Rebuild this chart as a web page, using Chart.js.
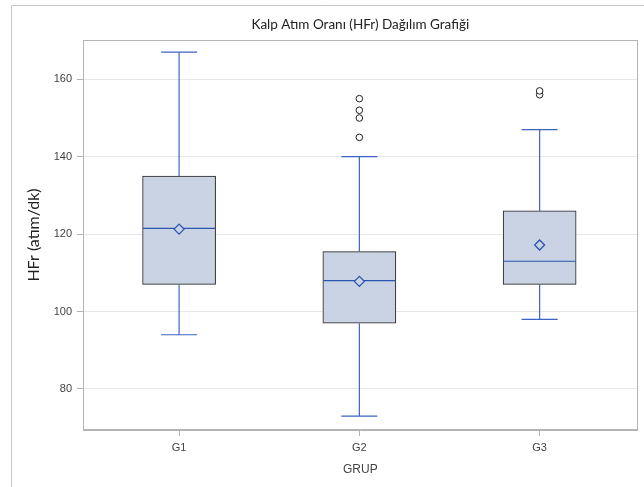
<!DOCTYPE html>
<html><head><meta charset="utf-8">
<script src="https://cdn.jsdelivr.net/npm/chart.js@4.4.1/dist/chart.umd.min.js"></script>
<style>html,body{margin:0;padding:0;background:#fff}#wrap{width:644px;height:487px;position:relative}</style>
</head><body><div id="wrap"><canvas id="c" width="644" height="487"></canvas></div>
<script>
// ---- data ----
const groups = ['G1', 'G2', 'G3'];
const minVals = [94, 73, 98];
const q1Vals = [107, 97, 107];
const medianVals = [121.5, 108, 113];
const meanVals = [121.3, 107.8, 117.2];
const q3Vals = [135, 115.5, 126];
const maxVals = [167, 140, 147];
const outlierVals = [[], [145, 150, 152, 155], [156, 157]];
const yTicks = [80, 100, 120, 140, 160];
const titleText = 'Kalp Atım Oranı (HFr) Dağılım Grafiği';
const yTitle = 'HFr (atım/dk)';
const xTitle = 'GRUP';

// ---- styling / layout constants ----
const X_MIN = 0.467, X_MAX = 3.544, Y_MIN = 69.4, Y_MAX = 170.15;
const CAP = 0.1, MED = 0.2;
const BLUE = '#3B65C2', BLUE_D = '#2A55B0', AXIS = '#B4B4B4', TXT = '#444';
const pos = groups.map((g, i) => i + 1);

const whiskerData = [];
pos.forEach((x, i) => {
  whiskerData.push(
    {x: x - CAP, y: maxVals[i]}, {x: x + CAP, y: maxVals[i]}, {x: x, y: null},
    {x: x, y: maxVals[i]}, {x: x, y: q3Vals[i]}, {x: x, y: null},
    {x: x, y: q1Vals[i]}, {x: x, y: minVals[i]}, {x: x, y: null},
    {x: x - CAP, y: minVals[i]}, {x: x + CAP, y: minVals[i]}, {x: x, y: null}
  );
});
const medianData = [];
pos.forEach((x, i) => {
  medianData.push({x: x - MED, y: medianVals[i]}, {x: x + MED, y: medianVals[i]}, {x: x, y: null});
});
const outlierData = [];
pos.forEach((x, i) => outlierVals[i].forEach(v => outlierData.push({x: x, y: v})));

const framePlugin = {
  id: 'frame',
  beforeDraw(chart) {
    const c = chart.ctx;
    c.save();
    c.fillStyle = '#fff';
    c.fillRect(0, 0, chart.width, chart.height);
    c.strokeStyle = '#C8C8C8';
    c.lineWidth = 1;
    c.beginPath();
    c.moveTo(11.5, 487); c.lineTo(11.5, 5.5); c.lineTo(644, 5.5);
    c.stroke();
    c.restore();
  },
  afterDraw(chart) {
    const c = chart.ctx, a = chart.chartArea;
    c.save();
    c.strokeStyle = AXIS;
    c.lineWidth = 1;
    c.strokeRect(Math.round(a.left) + 0.5, Math.round(a.top) + 0.5, Math.round(a.right - a.left) - 1, Math.round(a.bottom - a.top) - 1);
    c.fillStyle = '#222';
    c.font = '13.5px Lato';
    c.textAlign = 'center';
    c.textBaseline = 'middle';
    c.fillText(titleText, (a.left + a.right) / 2, 25);
    c.restore();
  }
};

new Chart(document.getElementById('c'), {
  type: 'bar',
  data: {
    datasets: [
      {
        type: 'bar', label: 'box', order: 3,
        data: pos.map((x, i) => ({x: x, y: [q1Vals[i], q3Vals[i]]})),
        backgroundColor: '#CAD3E3', borderColor: '#1E1E1E', borderWidth: 1,
        borderSkipped: false, barThickness: 73
      },
      {
        type: 'line', label: 'whiskers', order: 2, data: whiskerData,
        borderColor: BLUE, borderWidth: 1.2, pointRadius: 0, spanGaps: false, fill: false, tension: 0
      },
      {
        type: 'line', label: 'median', order: 2, data: medianData,
        borderColor: BLUE_D, borderWidth: 1.2, pointRadius: 0, spanGaps: false, fill: false, tension: 0
      },
      {
        type: 'scatter', label: 'mean', order: 1,
        data: pos.map((x, i) => ({x: x, y: meanVals[i]})),
        pointStyle: 'rectRot', pointRadius: 5, borderColor: BLUE_D, borderWidth: 1.3,
        backgroundColor: '#CAD3E3'
      },
      {
        type: 'scatter', label: 'outliers', order: 1, data: outlierData,
        pointStyle: 'circle', pointRadius: 3.3, borderColor: '#222', borderWidth: 1,
        backgroundColor: '#fff'
      }
    ]
  },
  options: {
    responsive: false, animation: false, devicePixelRatio: 1,
    layout: {padding: {left: 12, top: 40, right: 1, bottom: 0}},
    plugins: {legend: {display: false}, tooltip: {enabled: false}, title: {display: false}},
    scales: {
      x: {
        type: 'linear', min: X_MIN, max: X_MAX, offset: false,
        afterBuildTicks: s => { s.ticks = pos.map(v => ({value: v})); },
        afterFit: s => { s.height = 57; },
        ticks: {callback: v => groups[Math.round(v) - 1], color: TXT, font: {family: 'Liberation Sans', size: 11}, padding: 5, maxRotation: 0},
        grid: {offset: false, drawOnChartArea: false, drawTicks: true, tickLength: 6, color: AXIS},
        border: {color: AXIS},
        title: {display: true, text: xTitle, color: TXT, font: {family: 'Liberation Sans', size: 12}, padding: {top: 0, bottom: 10}}
      },
      y: {
        type: 'linear', min: Y_MIN, max: Y_MAX,
        afterBuildTicks: s => { s.ticks = yTicks.map(v => ({value: v})); },
        afterFit: s => { s.width = 71; },
        ticks: {color: TXT, font: {family: 'Liberation Sans', size: 11}, padding: 5},
        grid: {color: '#E6E6E6', tickColor: AXIS, tickLength: 6, drawTicks: true},
        border: {color: AXIS},
        title: {display: true, text: yTitle, color: '#222', font: {family: 'Lato', size: 16}, padding: {top: 12, bottom: 0}}
      }
    }
  },
  plugins: [framePlugin]
});
</script>
</body></html>
